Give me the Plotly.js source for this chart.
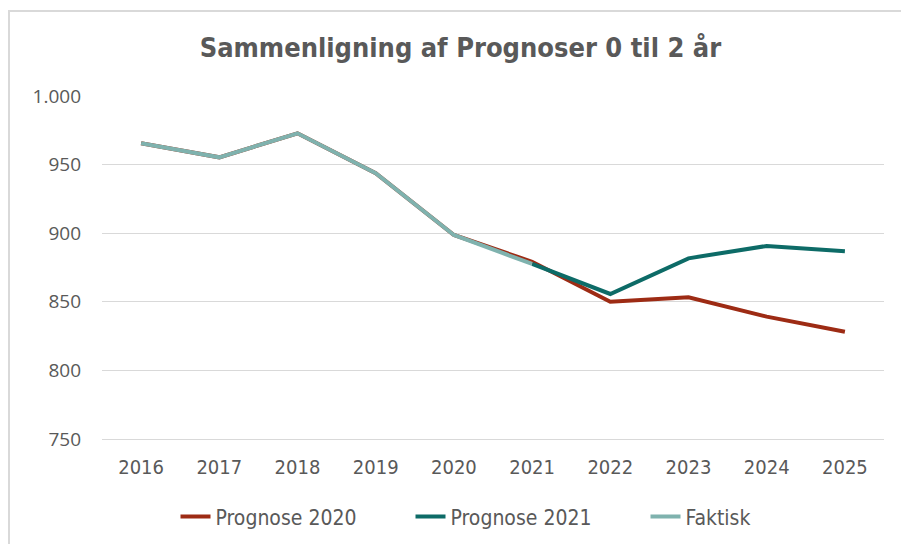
<!DOCTYPE html>
<html>
<head>
<meta charset="utf-8">
<script src="https://cdn.plot.ly/plotly-3.0.1.min.js"></script>
<style>
html,body{margin:0;padding:0;background:#fff;}
#wrap{position:relative;width:901px;height:544px;}
#chart{width:901px;height:544px;}
#frame{position:absolute;left:8px;top:10px;width:900px;height:540px;border-left:2px solid #d9d9d9;border-top:2px solid #d9d9d9;pointer-events:none;}
</style>
</head>
<body>
<div id="wrap"><div id="chart"></div><div id="frame"></div></div>
<script>
const years = ['2016','2017','2018','2019','2020','2021','2022','2023','2024','2025'];
const prognose2020 = [965.5, 955.3, 972.8, 943.7, 898.7, 879.2, 850.1, 853.3, 839.2, 828.2];
const prognose2021 = [null, null, null, null, null, 877.6, 855.7, 881.7, 890.7, 886.8];
const faktisk = [965.5, 955.3, 972.8, 943.7, 898.7, 877.6, null, null, null, null];
const yTicks = [750, 800, 850, 900, 950, 1000];

const narrow = '"DejaVu Sans Condensed", "Liberation Sans Narrow", sans-serif';

const traces = [
  {x: years, y: prognose2020, name: 'Prognose 2020', type: 'scatter', mode: 'lines',
   line: {color: '#9d2b14', width: 4}},
  {x: years, y: prognose2021, name: 'Prognose 2021', type: 'scatter', mode: 'lines',
   line: {color: '#0d6b67', width: 4}},
  {x: years, y: faktisk, name: 'Faktisk', type: 'scatter', mode: 'lines',
   line: {color: '#7fb2ae', width: 4}}
];

const layout = {
  width: 901, height: 544,
  margin: {l: 102, r: 17, t: 96, b: 105},
  paper_bgcolor: '#ffffff', plot_bgcolor: '#ffffff',
  separators: ',.',
  title: {text: '<b>Sammenligning af Prognoser 0 til 2 år</b>', x: 0.511, xanchor: 'center', y: 0.913, yanchor: 'middle',
          font: {family: narrow, size: 27, color: '#595959'}},
  xaxis: {type: 'category', categoryorder: 'array', categoryarray: years, range: [-0.5, 9.5],
          showgrid: false, zeroline: false, showline: true, linecolor: '#d9d9d9', linewidth: 1,
          ticks: '', ticklabelstandoff: 10, tickfont: {family: narrow, size: 20, color: '#595959'}},
  yaxis: {range: [750, 1000], tickvals: yTicks, separatethousands: true, tickformat: ',d',
          showgrid: true, gridcolor: '#d9d9d9', gridwidth: 1, zeroline: false, showline: false,
          ticks: '', ticklabelstandoff: 20, tickfont: {family: '"Open Sans", sans-serif', size: 19, color: '#595959'}},
  showlegend: true,
  legend: {orientation: 'h', x: 0.094, xanchor: 'left', yref: 'container', y: 0.05, yanchor: 'middle',
           entrywidth: 190, entrywidthmode: 'pixels',
           font: {family: narrow, size: 21, color: '#595959'}, traceorder: 'normal', itemwidth: 30}
};

Plotly.newPlot('chart', traces, layout, {displayModeBar: false, staticPlot: true});
</script>
</body>
</html>
